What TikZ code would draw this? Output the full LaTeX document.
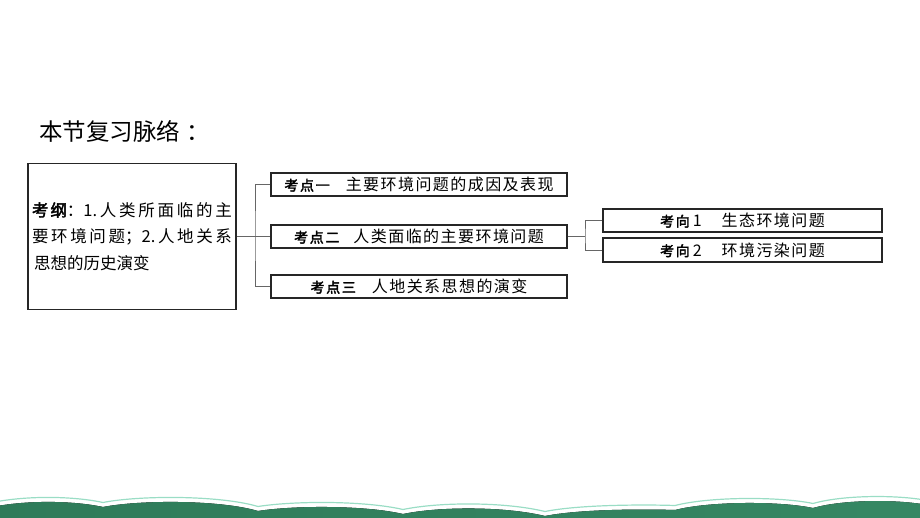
\documentclass[tikz,border=0pt]{standalone}
\usepackage{fontspec}
\newfontfamily\cjk{Noto Sans CJK SC}
\newfontfamily\cjkbold[FakeBold=2.5,LetterSpace=12]{Noto Sans CJK SC}
\newfontfamily\cjkwide[LetterSpace=9]{Noto Sans CJK SC}
\definecolor{wavedark}{HTML}{2E7B59}
\definecolor{wavelight}{HTML}{5FCFA0}
\definecolor{waveline}{HTML}{9ADDC5}
\definecolor{linkgray}{HTML}{666666}
\newcommand\kdlabel[1]{{\cjkbold\fontsize{14}{14}\selectfont #1}}
% top edge of the green band at the bottom
\newcommand\wavetop{(-20,510) .. controls (15,499.8) and (70,499.8) .. (103,507)
  .. controls (140,499.7) and (220,499.7) .. (258,511)
  .. controls (295,505.2) and (365,505.2) .. (403,514)
  .. controls (440,506.3) and (505,506.3) .. (545,516)
  .. controls (580,509) and (645,509) .. (675,510)
  .. controls (710,501) and (780,501) .. (813,508)
  .. controls (845,498.7) and (910,498.7) .. (940,508)}
\begin{document}
\begin{tikzpicture}[x=1pt,y=-1pt,
    kbox/.style={draw=black!85,line width=1.1pt,minimum height=23pt,inner sep=0pt,
      font=\cjkwide\fontsize{16}{16}\selectfont},
    link/.style={draw=linkgray,line width=0.8pt}]
    \useasboundingbox (0,0) rectangle (920,518);
    \clip (0,0) rectangle (920,518);
    % title
    \node[anchor=west,inner sep=0pt,font=\cjk\fontsize{23.5}{23.5}\selectfont] (title) at (39,131) {本节复习脉络\hspace{6pt}：};
    % left box
    \node[draw=black!85,line width=1.1pt,minimum width=208pt,minimum height=146pt,inner sep=0pt] (gang) at (132,236.5) {%
      \parbox{200pt}{\cjk\fontsize{16.5}{26.5}\selectfont
        \makebox[200pt][s]{{\cjkbold 考纲}：1.\hfil 人\hfil 类\hfil 所\hfil 面\hfil 临\hfil 的\hfil 主}\\
        \makebox[200pt][s]{要\hfil 环\hfil 境\hfil 问\hfil 题；2.\hfil 人\hfil 地\hfil 关\hfil 系}\\
        \hspace*{2pt}思想的历史演变}};
    % kaodian boxes
    \node[kbox,minimum width=296pt] (k1) at (419,184.5) {\kdlabel{考点一}\hspace{16pt}主要环境问题的成因及表现};
    \node[kbox,minimum width=296pt] (k2) at (419,236.5) {\kdlabel{考点二}\hspace{14pt}人类面临的主要环境问题};
    \node[kbox,minimum width=296pt] (k3) at (419,286.5) {\kdlabel{考点三}\hspace{16pt}人地关系思想的演变};
    % kaoxiang boxes
    \node[kbox,minimum width=279pt] (ka) at (742.5,220.5) {\kdlabel{考向}\hspace{3pt}1\hspace{20pt}生态环境问题};
    \node[kbox,minimum width=279pt,minimum height=24pt] (kb) at (742.5,250) {\kdlabel{考向}\hspace{3pt}2\hspace{20pt}环境污染问题};
    % connectors
    \coordinate (tr1) at (255,236.5);
    \coordinate (tr2) at (585,236.5);
    \draw[link] (gang.east) -- (k2.west);
    \draw[link] (k1.west) -| (tr1) |- (k3.west);
    \draw[link] (k2.east) -- (tr2);
    \draw[link] (ka.west) -| (tr2) |- (kb.west);
    % green band
    \fill[left color=wavedark,middle color=wavelight,right color=wavedark!85!wavelight]
      (-20,530) -- \wavetop -- (940,530) -- cycle;
    \draw[waveline,line width=1.2pt,yshift=4.5pt] \wavetop;
\end{tikzpicture}
\end{document}
